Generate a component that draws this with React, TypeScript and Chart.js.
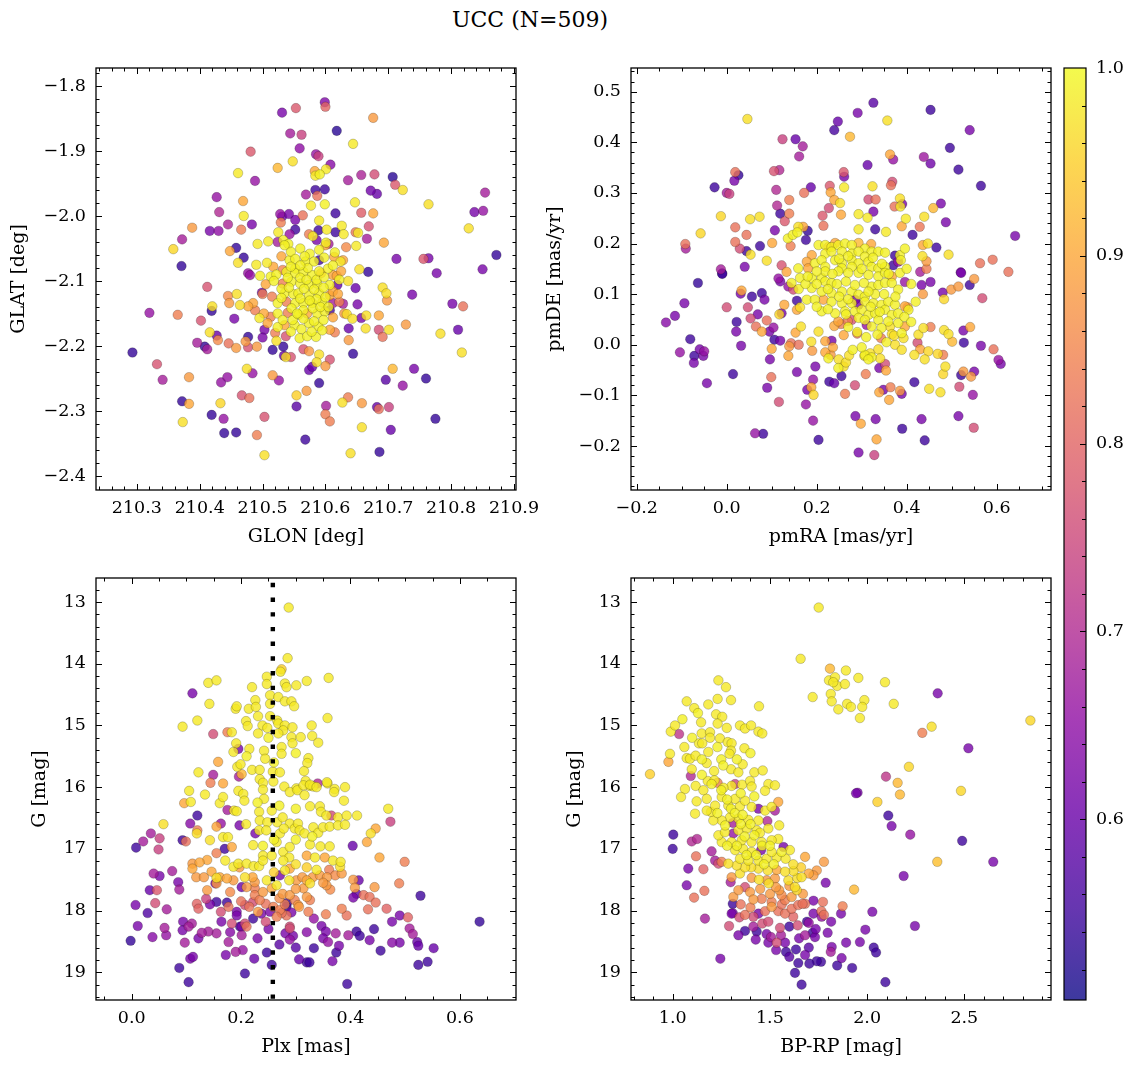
import React, { useEffect, useRef } from "react";
import { Chart, registerables } from "chart.js";
Chart.register(...registerables);

const FIG_W = 1136;
const FIG_H = 1067;
const SERIF = "'DejaVu Serif', 'Liberation Serif', serif";
const TICK_FONT = { family: SERIF, size: 17.5 };
const LABEL_FONT = { family: SERIF, size: 19 };
const TITLE_TEXT = "UCC (N=509)";

// ---------- tick labels ----------
const GLON_TICKS = [210.3, 210.4, 210.5, 210.6, 210.7, 210.8, 210.9];
const GLAT_TICKS = [-2.4, -2.3, -2.2, -2.1, -2.0, -1.9, -1.8];
const PMRA_TICKS = [-0.2, 0.0, 0.2, 0.4, 0.6];
const PMDE_TICKS = [-0.2, -0.1, 0.0, 0.1, 0.2, 0.3, 0.4, 0.5];
const PLX_TICKS = [0.0, 0.2, 0.4, 0.6];
const MAG_TICKS = [13, 14, 15, 16, 17, 18, 19];
const COLOR_TICKS = [1.0, 1.5, 2.0, 2.5];
const PROB_TICKS = [0.6, 0.7, 0.8, 0.9, 1.0];

const PROB_MIN = 0.5038;
const PROB_MAX = 1.0;
const PLX_REF = 0.258; // dotted reference line

// ---------- data: [x, y, membership probability] ----------
const skyPoints = [
[210.599,-1.825,0.63],[210.600,-1.832,0.80],[210.531,-1.841,0.62],[210.553,-1.834,0.78],[210.676,-1.849,0.88],[210.618,-1.869,0.53],[210.544,-1.873,0.68],[210.562,-1.875,0.74],[210.644,-1.889,0.98],[210.559,-1.896,0.65],[210.481,-1.901,0.78],[210.585,-1.905,0.66],[210.589,-1.908,0.74],[210.548,-1.916,0.97],[210.524,-1.926,0.92],[210.608,-1.921,0.64],[210.601,-1.928,0.98],[210.583,-1.931,0.90],[210.591,-1.936,0.99],[210.584,-1.938,0.98],[210.461,-1.934,0.98],[210.488,-1.946,0.66],[210.636,-1.945,0.68],[210.657,-1.937,0.69],[210.678,-1.936,0.76],[210.707,-1.940,0.53],[210.711,-1.952,0.78],[210.723,-1.960,0.97],[210.584,-1.960,0.55],[210.599,-1.959,0.55],[210.672,-1.961,0.61],[210.682,-1.966,0.60],[210.854,-1.964,0.68],[210.427,-1.971,0.66],[210.569,-1.967,0.68],[210.587,-1.969,0.82],[210.469,-1.977,0.90],[210.577,-1.984,0.98],[210.599,-1.982,0.99],[210.647,-1.979,0.98],[210.764,-1.982,0.97],[210.837,-1.994,0.62],[210.851,-1.992,0.66],[210.431,-1.994,0.70],[210.470,-2.000,0.98],[210.528,-1.997,0.66],[210.531,-2.001,0.60],[210.542,-1.997,0.62],[210.564,-1.999,0.82],[210.616,-1.996,0.55],[210.657,-1.995,0.79],[210.676,-1.996,0.90],[210.529,-2.010,0.84],[210.552,-2.006,0.62],[210.590,-2.007,0.98],[210.445,-2.013,0.69],[210.483,-2.013,0.62],[210.388,-2.018,0.88],[210.416,-2.023,0.62],[210.430,-2.023,0.65],[210.466,-2.021,0.84],[210.552,-2.021,0.55],[210.543,-2.028,0.66],[210.589,-2.022,0.55],[210.602,-2.021,0.98],[210.616,-2.025,0.55],[210.626,-2.015,0.98],[210.629,-2.028,0.98],[210.648,-2.025,0.83],[210.652,-2.026,0.98],[210.669,-2.016,0.77],[210.828,-2.019,0.97],[210.372,-2.036,0.68],[210.525,-2.025,0.98],[210.574,-2.028,0.84],[210.586,-2.037,0.62],[210.580,-2.031,0.98],[210.666,-2.035,0.68],[210.693,-2.041,0.90],[210.358,-2.051,0.96],[210.458,-2.049,0.54],[210.448,-2.054,0.90],[210.492,-2.043,0.98],[210.509,-2.039,0.98],[210.533,-2.037,0.99],[210.541,-2.043,0.99],[210.524,-2.040,0.68],[210.633,-2.048,0.86],[210.649,-2.046,0.98],[210.601,-2.041,0.99],[210.605,-2.043,0.68],[210.371,-2.077,0.54],[210.470,-2.064,0.54],[210.461,-2.072,0.97],[210.713,-2.066,0.62],[210.756,-2.066,0.78],[210.764,-2.065,0.62],[210.872,-2.060,0.54],[210.777,-2.088,0.62],[210.850,-2.082,0.62],[210.654,-2.082,0.97],[210.668,-2.086,0.54],[210.624,-2.070,0.98],[210.614,-2.063,0.90],[210.590,-2.068,0.55],[210.507,-2.072,0.98],[210.490,-2.075,0.98],[210.517,-2.078,0.90],[210.532,-2.083,0.85],[210.552,-2.081,0.99],[210.568,-2.070,0.99],[210.604,-2.081,0.99],[210.477,-2.088,0.66],[210.543,-2.068,0.99],
[210.412,-2.109,0.77],[210.738,-2.121,0.62],[210.802,-2.135,0.62],[210.819,-2.139,0.82],[210.320,-2.149,0.66],[210.365,-2.152,0.84],[210.420,-2.139,0.97],[210.419,-2.146,0.54],[210.402,-2.161,0.77],[210.455,-2.158,0.62],[210.499,-2.118,0.62],[210.445,-2.123,0.86],[210.459,-2.120,0.97],[210.447,-2.134,0.88],[210.464,-2.137,0.97],[210.648,-2.111,0.60],[210.691,-2.110,0.97],[210.697,-2.119,0.97],[210.698,-2.130,0.88],[210.628,-2.135,0.68],[210.636,-2.100,0.97],[210.651,-2.136,0.62],[210.634,-2.151,0.97],[210.643,-2.158,0.97],[210.665,-2.153,0.97],[210.685,-2.153,0.90],[210.657,-2.157,0.62],[210.637,-2.173,0.60],[210.664,-2.173,0.97],[210.685,-2.175,0.76],[210.691,-2.186,0.82],[210.701,-2.175,0.97],[210.728,-2.167,0.88],[210.783,-2.181,0.97],[210.811,-2.175,0.60],[210.817,-2.210,0.97],[210.293,-2.210,0.54],[210.332,-2.228,0.77],[210.341,-2.252,0.68],[210.396,-2.195,0.68],[210.408,-2.201,0.54],[210.412,-2.205,0.68],[210.416,-2.179,0.97],[210.427,-2.184,0.60],[210.429,-2.191,0.86],[210.446,-2.196,0.82],[210.458,-2.203,0.88],[210.477,-2.186,0.54],[210.473,-2.193,0.88],[210.477,-2.202,0.77],[210.491,-2.201,0.88],[210.503,-2.175,0.62],[210.500,-2.187,0.62],[210.522,-2.192,0.97],[210.516,-2.206,0.54],[210.533,-2.201,0.54],[210.537,-2.185,0.77],[210.534,-2.215,0.60],[210.537,-2.217,0.97],[210.545,-2.217,0.77],[210.565,-2.205,0.77],[210.574,-2.208,0.88],[210.590,-2.213,0.97],[210.586,-2.225,0.97],[210.600,-2.231,0.88],[210.607,-2.221,0.77],[210.574,-2.237,0.60],[210.579,-2.232,0.60],[210.637,-2.191,0.88],[210.644,-2.212,0.54],[210.707,-2.235,0.92],[210.741,-2.235,0.62],[210.760,-2.250,0.54],[210.696,-2.252,0.58],[210.723,-2.261,0.66],[210.383,-2.248,0.88],[210.434,-2.256,0.66],[210.444,-2.248,0.66],[210.475,-2.235,0.97],[210.484,-2.242,0.66],[210.516,-2.245,0.88],[210.526,-2.253,0.66],[210.590,-2.257,0.54],[210.372,-2.285,0.54],[210.383,-2.289,0.90],[210.433,-2.288,0.96],[210.467,-2.276,0.77],[210.479,-2.280,0.82],[210.554,-2.276,0.95],[210.554,-2.293,0.58],[210.570,-2.269,0.88],[210.601,-2.292,0.68],[210.600,-2.305,0.84],[210.607,-2.316,0.84],[210.627,-2.287,0.97],[210.636,-2.279,0.84],[210.658,-2.288,0.88],[210.682,-2.294,0.60],[210.685,-2.297,0.82],[210.701,-2.294,0.74],[210.658,-2.325,0.97],[210.704,-2.329,0.60],[210.775,-2.312,0.54],[210.419,-2.306,0.54],[210.438,-2.312,0.66],[210.373,-2.317,0.97],[210.439,-2.334,0.54],[210.458,-2.333,0.54],[210.503,-2.309,0.77],[210.491,-2.337,0.84],[210.568,-2.344,0.55],[210.503,-2.368,0.97],[210.640,-2.365,0.97],[210.686,-2.363,0.54]
];

const skyCorePoints = [
[210.538,-2.086,0.99],[210.552,-2.088,0.99],[210.565,-2.086,0.99],[210.579,-2.091,0.99],[210.593,-2.088,0.90],[210.612,-2.091,0.90],[210.619,-2.106,0.60],[210.532,-2.104,0.84],[210.546,-2.101,0.99],[210.560,-2.104,0.99],[210.574,-2.106,0.99],[210.587,-2.104,0.99],[210.607,-2.106,0.99],[210.535,-2.119,0.99],[210.549,-2.120,0.99],[210.557,-2.119,0.99],[210.574,-2.122,0.99],[210.590,-2.119,0.99],[210.607,-2.122,0.90],[210.612,-2.134,0.68],[210.524,-2.134,0.99],[210.538,-2.132,0.84],[210.552,-2.134,0.99],[210.565,-2.134,0.99],[210.579,-2.134,0.99],[210.595,-2.133,0.99],[210.607,-2.145,0.56],[210.524,-2.150,0.99],[210.540,-2.149,0.84],[210.557,-2.152,0.99],[210.571,-2.150,0.90],[210.587,-2.150,0.99],[210.599,-2.147,0.99],[210.502,-2.150,0.90],[210.495,-2.157,0.98],[210.513,-2.155,0.84],[210.524,-2.171,0.99],[210.535,-2.168,0.90],[210.551,-2.168,0.99],[210.562,-2.174,0.99],[210.574,-2.165,0.99],[210.589,-2.170,0.99],[210.607,-2.175,0.90],[210.615,-2.179,0.84],[210.559,-2.188,0.99],[210.571,-2.185,0.99],[210.585,-2.186,0.99],[210.485,-2.134,0.90],[210.477,-2.139,0.90],[210.488,-2.145,0.84],[210.513,-2.093,0.99],[210.496,-2.092,0.99],[210.480,-2.091,0.66],[210.618,-2.092,0.90],[210.612,-2.116,0.90],
[210.545,-2.055,0.99],[210.560,-2.050,0.99],[210.575,-2.058,0.99],[210.590,-2.052,0.99],[210.615,-2.056,0.99],[210.530,-2.062,0.90],[210.552,-2.066,0.99],[210.567,-2.062,0.99],[210.582,-2.070,0.99],[210.598,-2.064,0.99],[210.612,-2.076,0.99],[210.628,-2.068,0.90],[210.522,-2.090,0.99],[210.545,-2.078,0.99],[210.560,-2.095,0.99],[210.572,-2.080,0.99],[210.586,-2.098,0.99],[210.598,-2.094,0.99],[210.622,-2.098,0.99],[210.530,-2.112,0.99],[210.542,-2.110,0.99],[210.566,-2.112,0.99],[210.582,-2.113,0.99],[210.597,-2.110,0.99],[210.620,-2.120,0.90],[210.515,-2.124,0.84],[210.530,-2.126,0.99],[210.560,-2.127,0.99],[210.586,-2.128,0.99],[210.600,-2.125,0.99],[210.622,-2.132,0.84],[210.546,-2.142,0.99],[210.565,-2.145,0.99],[210.580,-2.142,0.99],[210.592,-2.140,0.99],[210.612,-2.156,0.90],[210.532,-2.160,0.99],[210.548,-2.160,0.99],[210.565,-2.158,0.99],[210.582,-2.162,0.99],[210.597,-2.160,0.99],[210.545,-2.178,0.99],[210.578,-2.178,0.99],[210.595,-2.176,0.99],[210.508,-2.165,0.90],[210.520,-2.180,0.84],[210.630,-2.150,0.88],[210.505,-2.105,0.90],[210.518,-2.100,0.99],[210.500,-2.120,0.84],[210.625,-2.085,0.90],[210.570,-2.098,0.99],[210.555,-2.150,0.99],[210.575,-2.130,0.99],[210.590,-2.085,0.99],[210.540,-2.095,0.99],[210.605,-2.140,0.99],[210.560,-2.076,0.99],[210.535,-2.045,0.99],[210.600,-2.045,0.90]
];

const pmPoints = [
[0.326,0.478,0.58],[0.453,0.464,0.55],[0.291,0.458,0.62],[0.046,0.446,0.97],[0.357,0.443,0.97],[0.247,0.441,0.60],[0.239,0.424,0.56],[0.274,0.411,0.92],[0.540,0.424,0.62],[0.124,0.406,0.74],[0.153,0.406,0.60],[0.169,0.392,0.68],[0.161,0.372,0.68],[0.496,0.389,0.55],[0.363,0.376,0.90],[0.370,0.366,0.66],[0.438,0.371,0.67],[0.453,0.358,0.61],[0.313,0.355,0.60],[0.515,0.346,0.55],[0.565,0.314,0.55],[0.019,0.341,0.82],[0.026,0.335,0.54],[0.017,0.324,0.62],[0.105,0.343,0.77],[0.117,0.345,0.70],[0.260,0.341,0.78],[0.261,0.332,0.62],[-0.027,0.311,0.55],[0.000,0.300,0.68],[0.006,0.298,0.74],[0.110,0.306,0.70],[0.187,0.311,0.60],[0.172,0.300,0.82],[0.229,0.314,0.78],[0.231,0.301,0.90],[0.261,0.311,0.98],[0.324,0.313,0.97],[0.365,0.315,0.82],[0.368,0.322,0.76],[0.315,0.287,0.76],[0.331,0.287,0.82],[0.139,0.286,0.84],[0.239,0.286,0.90],[0.252,0.280,0.97],[0.385,0.289,0.97],[0.373,0.273,0.82],[0.390,0.278,0.62],[0.386,0.273,0.98],[0.476,0.279,0.62],[0.459,0.270,0.92],[0.112,0.275,0.70],[0.227,0.270,0.76],[-0.013,0.254,0.96],[0.052,0.248,0.97],[0.073,0.253,0.97],[0.119,0.259,0.55],[0.139,0.259,0.84],[0.129,0.244,0.78],[0.213,0.255,0.78],[0.254,0.257,0.90],[0.293,0.258,0.98],[0.313,0.251,0.98],[0.326,0.263,0.62],[0.398,0.249,0.98],[0.439,0.253,0.97],[0.487,0.242,0.62],[-0.058,0.220,0.96],[0.019,0.232,0.82],[0.044,0.217,0.82],[0.107,0.226,0.62],[0.159,0.233,0.97],[0.170,0.233,0.90],[0.180,0.225,0.54],[0.176,0.207,0.55],[0.215,0.235,0.82],[0.293,0.228,0.98],[0.330,0.228,0.55],[0.354,0.223,0.98],[0.389,0.234,0.90],[0.413,0.217,0.55],[0.429,0.233,0.83],[0.641,0.215,0.62],[-0.092,0.199,0.82],[-0.091,0.190,0.68],[0.019,0.203,0.82],[0.029,0.190,0.76],[0.044,0.185,0.55],[0.053,0.178,0.97],[0.074,0.195,0.55],[0.101,0.201,0.90],[0.089,0.166,0.97],[0.040,0.154,0.62],[-0.013,0.149,0.68],[-0.010,0.141,0.55],[0.122,0.157,0.77],
[0.436,0.197,0.90],[0.447,0.200,0.97],[0.466,0.192,0.55],[0.435,0.175,0.97],[0.444,0.165,0.88],[0.493,0.178,0.97],[0.563,0.161,0.82],[0.591,0.168,0.82],[0.626,0.144,0.82],[0.520,0.143,0.62],[0.430,0.144,0.68],[0.444,0.150,0.84],
[-0.064,0.122,0.54],[-0.010,0.140,0.55],[-0.094,0.082,0.62],[-0.115,0.057,0.62],[-0.135,0.044,0.64],[-0.081,0.011,0.55],[-0.104,-0.015,0.66],[-0.060,-0.009,0.62],[-0.050,-0.013,0.66],[-0.052,-0.022,0.62],[-0.072,-0.022,0.55],[-0.073,-0.036,0.62],[-0.044,-0.076,0.62],[0.000,0.074,0.76],[0.033,0.107,0.90],[0.031,0.101,0.62],[0.056,0.095,0.55],[0.078,0.102,0.55],[0.084,0.089,0.62],[0.022,0.045,0.55],[0.021,0.026,0.62],[0.047,0.074,0.76],[0.053,0.052,0.76],[0.069,0.060,0.62],[0.065,0.036,0.82],[0.078,0.026,0.90],[0.089,0.048,0.82],[0.095,0.026,0.62],[0.104,0.034,0.66],[0.032,-0.002,0.62],[0.014,-0.058,0.55],[0.100,-0.008,0.90],[0.106,0.010,0.55],[0.119,0.008,0.62],[0.096,-0.029,0.62],[0.099,-0.064,0.82],[0.090,-0.085,0.62],[0.116,-0.113,0.76],[0.119,0.125,0.62],[0.137,0.115,0.66],[0.128,0.079,0.90],[0.148,0.109,0.76],[0.117,0.060,0.96],[0.122,0.062,0.62],[0.156,0.087,0.55],[0.163,0.074,0.97],[0.156,0.069,0.90],[0.139,-0.003,0.88],[0.143,0.003,0.82],[0.160,0.000,0.82],[0.137,-0.022,0.90],[0.153,0.024,0.90],[0.165,0.036,0.97],[0.156,-0.054,0.62],[0.179,-0.089,0.62],[0.188,-0.084,0.90],[0.193,-0.099,0.96],[0.176,-0.118,0.66],[0.192,-0.150,0.66],[0.197,-0.043,0.62],[0.192,-0.069,0.66],[0.188,0.006,0.97],[0.190,-0.012,0.88],[0.204,-0.188,0.55],[0.204,0.026,0.97],[0.219,0.007,0.90],[0.219,-0.015,0.90],[0.228,-0.073,0.55],[0.239,-0.076,0.60],[0.231,-0.020,0.88],[0.236,-0.005,0.90],[0.233,0.008,0.62],[0.239,0.037,0.90],[0.249,-0.029,0.97],[0.260,-0.043,0.97],[0.265,-0.035,0.97],[0.255,-0.062,0.55],[0.254,0.041,0.84],[0.260,0.019,0.90],[0.269,0.047,0.84],[0.272,-0.021,0.97],[0.263,-0.097,0.84],[0.285,-0.080,0.76],[0.290,0.022,0.83],[0.286,-0.141,0.62],[0.298,-0.156,0.90],[0.293,-0.213,0.62],[0.309,-0.058,0.84],[0.311,0.039,0.66],[0.306,-0.022,0.97],[0.319,-0.017,0.97],[0.331,-0.147,0.62],[0.328,-0.218,0.74],[0.333,-0.187,0.90],[0.337,-0.009,0.97],[0.339,-0.046,0.62],[0.341,-0.027,0.97],[0.354,-0.051,0.90],[0.352,-0.038,0.76],[0.339,-0.094,0.90],[0.348,-0.089,0.62],[0.361,-0.109,0.90],[0.364,-0.084,0.84],[0.343,0.013,0.84],[0.363,0.036,0.97],[0.367,0.021,0.97],[0.374,0.000,0.97],[0.372,0.018,0.97],[0.385,-0.091,0.88],[0.389,-0.097,0.62],[0.390,-0.166,0.55],[0.389,-0.010,0.97],[0.393,0.013,0.97],[0.396,0.036,0.90],[0.402,0.074,0.88],[0.396,0.124,0.66],[0.417,-0.074,0.55],[0.417,-0.020,0.97],[0.424,0.004,0.76],[0.430,-0.009,0.90],[0.440,-0.029,0.97],[0.426,0.020,0.97],[0.433,-0.147,0.62],[0.440,-0.189,0.55],[0.450,-0.087,0.97],[0.448,-0.013,0.96],[0.437,0.033,0.97],[0.453,0.035,0.84],[0.436,0.100,0.88],[0.433,0.118,0.62],[0.453,0.124,0.62],[0.469,-0.018,0.96],[0.475,-0.094,0.97],[0.481,-0.020,0.84],[0.480,0.103,0.62],[0.483,0.090,0.96],[0.483,0.029,0.97],[0.493,0.021,0.97],[0.486,-0.043,0.97],[0.501,0.006,0.92],[0.481,-0.058,0.96],[0.499,0.109,0.88],[0.515,0.115,0.88],[0.521,0.142,0.62],[0.540,0.118,0.55],[0.550,0.130,0.88],[0.568,0.092,0.76],[0.526,0.028,0.62],[0.541,0.035,0.90],[0.527,0.004,0.55],[0.565,-0.002,0.62],[0.593,-0.009,0.82],[0.604,-0.030,0.66],[0.609,-0.038,0.62],[0.521,-0.060,0.55],[0.526,-0.053,0.88],[0.543,-0.063,0.88],[0.550,-0.053,0.62],[0.517,-0.083,0.76],[0.547,-0.099,0.66],[0.515,-0.141,0.62],[0.549,-0.164,0.76],[0.063,-0.175,0.66],[0.081,-0.176,0.55]
];

const pmCorePoints = [
[0.204,0.197,0.99],[0.219,0.197,0.99],[0.233,0.193,0.99],[0.248,0.197,0.99],[0.263,0.200,0.99],[0.278,0.197,0.99],[0.293,0.201,0.92],[0.307,0.190,0.99],[0.322,0.184,0.99],[0.219,0.180,0.99],[0.233,0.184,0.99],[0.256,0.184,0.99],[0.278,0.180,0.99],[0.293,0.184,0.99],[0.307,0.174,0.99],[0.189,0.177,0.90],[0.178,0.164,0.90],[0.196,0.161,0.99],[0.211,0.167,0.99],[0.241,0.167,0.99],[0.256,0.161,0.99],[0.278,0.167,0.99],[0.293,0.161,0.99],[0.315,0.164,0.99],[0.337,0.184,0.99],[0.352,0.182,0.99],[0.374,0.176,0.55],[0.385,0.177,0.99],[0.396,0.190,0.99],[0.387,0.167,0.99],[0.159,0.151,0.99],[0.181,0.151,0.90],[0.219,0.154,0.99],[0.256,0.151,0.99],[0.278,0.154,0.99],[0.322,0.154,0.99],[0.337,0.151,0.99],[0.352,0.154,0.99],[0.370,0.157,0.55],[0.381,0.164,0.66],[0.226,0.193,0.90],[0.321,0.199,0.90],[0.241,0.201,0.90],[0.136,0.210,0.99],[0.147,0.217,0.99],[0.142,0.195,0.84],[0.157,0.222,0.99],[0.133,0.144,0.90],[0.115,0.131,0.66],
[0.144,0.122,0.99],[0.163,0.132,0.99],[0.189,0.132,0.99],[0.211,0.132,0.99],[0.219,0.125,0.99],[0.233,0.122,0.99],[0.189,0.112,0.99],[0.248,0.145,0.99],[0.270,0.142,0.99],[0.293,0.142,0.99],[0.315,0.138,0.99],[0.337,0.135,0.99],[0.352,0.142,0.99],[0.367,0.135,0.90],[0.385,0.142,0.99],[0.211,0.105,0.99],[0.233,0.102,0.99],[0.256,0.105,0.99],[0.278,0.105,0.99],[0.293,0.099,0.99],[0.307,0.095,0.99],[0.322,0.115,0.99],[0.337,0.118,0.99],[0.352,0.122,0.99],[0.367,0.122,0.99],[0.381,0.109,0.99],[0.178,0.089,0.99],[0.196,0.089,0.99],[0.215,0.089,0.90],[0.233,0.085,0.99],[0.256,0.082,0.99],[0.278,0.082,0.99],[0.293,0.079,0.62],[0.307,0.085,0.99],[0.326,0.082,0.99],[0.344,0.079,0.99],[0.359,0.085,0.99],[0.374,0.079,0.99],[0.396,0.076,0.90],[0.211,0.066,0.99],[0.241,0.062,0.99],[0.263,0.066,0.99],[0.285,0.066,0.99],[0.300,0.069,0.99],[0.315,0.059,0.99],[0.330,0.062,0.99],[0.352,0.069,0.99],[0.367,0.059,0.99],[0.381,0.062,0.99],[0.404,0.069,0.99],[0.248,0.046,0.90],[0.278,0.049,0.77],[0.293,0.053,0.99],[0.307,0.049,0.99],[0.337,0.049,0.99],[0.359,0.046,0.99],[0.344,0.033,0.99],[0.322,0.036,0.99],[0.381,0.043,0.99],[0.389,0.023,0.99],[0.226,-0.027,0.99],[0.248,-0.046,0.99],[0.307,-0.020,0.99],[0.322,-0.025,0.99],[0.315,-0.029,0.99],[0.285,0.089,0.62],[0.219,0.145,0.99],
[0.160,0.110,0.99],[0.175,0.120,0.99],[0.200,0.120,0.99],[0.225,0.110,0.99],[0.245,0.120,0.99],[0.265,0.125,0.99],[0.285,0.118,0.99],[0.305,0.122,0.99],[0.330,0.100,0.99],[0.350,0.100,0.99],[0.375,0.095,0.99],[0.200,0.075,0.99],[0.225,0.070,0.99],[0.250,0.095,0.99],[0.270,0.090,0.99],[0.315,0.105,0.99],[0.340,0.065,0.99],[0.395,0.055,0.99],[0.270,0.035,0.99],[0.290,0.025,0.99],[0.310,0.015,0.99],[0.335,0.020,0.99],[0.355,0.005,0.99],[0.300,-0.005,0.99],[0.280,-0.010,0.99],[0.410,0.045,0.99],[0.420,0.085,0.99],[0.250,0.170,0.99],[0.270,0.175,0.99],[0.300,0.150,0.99],[0.235,0.140,0.99],[0.200,0.145,0.99],[0.180,0.135,0.99],[0.325,0.172,0.99],[0.345,0.160,0.99],[0.360,0.140,0.99],[0.400,0.150,0.99],[0.410,0.120,0.99],[0.265,0.060,0.99],[0.320,0.075,0.99]
];

const plxPoints = [
[0.287,13.09,0.98],[0.285,13.91,0.98],[0.274,14.09,0.95],[0.272,14.13,0.98],[0.247,14.21,0.98],[0.247,14.33,0.98],[0.280,14.32,0.98],[0.283,14.38,0.98],[0.301,14.35,0.98],[0.320,14.28,0.98],[0.360,14.23,0.98],[0.140,14.31,0.98],[0.155,14.27,0.98],[0.111,14.48,0.62],[0.142,14.65,0.98],[0.220,14.38,0.98],[0.253,14.51,0.98],[0.268,14.54,0.98],[0.226,14.59,0.98],[0.280,14.61,0.98],[0.292,14.61,0.98],[0.297,14.69,0.98],[0.253,14.65,0.98],[0.190,14.73,0.98],[0.192,14.69,0.98],[0.214,14.73,0.98],[0.227,14.70,0.98],[0.231,14.85,0.98],[0.253,14.85,0.98],[0.266,14.92,0.98],[0.358,14.88,0.98],[0.093,15.02,0.98],[0.120,14.92,0.98],[0.209,14.93,0.98],[0.212,15.01,0.98],[0.239,15.00,0.98],[0.248,15.04,0.98],[0.268,14.97,0.98],[0.280,15.00,0.98],[0.277,15.08,0.98],[0.294,15.03,0.98],[0.329,15.00,0.98],[0.330,15.17,0.98],[0.231,15.13,0.98],[0.149,15.14,0.76],[0.175,15.11,0.84],[0.183,15.11,0.98],[0.268,15.13,0.98],[0.292,15.19,0.98],[0.294,15.29,0.98],[0.309,15.19,0.98],[0.341,15.28,0.98],[0.191,15.29,0.98],[0.195,15.38,0.62],[0.186,15.43,0.98],[0.215,15.38,0.98],[0.242,15.41,0.98],[0.244,15.54,0.98],[0.274,15.35,0.98],[0.274,15.46,0.98],[0.323,15.53,0.98],[0.321,15.61,0.98],[0.193,15.67,0.98],[0.199,15.63,0.98],[0.158,15.59,0.90],[0.122,15.76,0.98],[0.149,15.80,0.68],[0.196,15.83,0.68],[0.201,15.79,0.92],[0.220,15.72,0.98],[0.234,15.72,0.98],[0.234,15.87,0.98],[0.240,15.93,0.98],[0.258,15.75,0.98],[0.271,15.76,0.98],[0.259,15.91,0.98],[0.315,15.74,0.98],[0.318,15.90,0.98],[0.144,15.93,0.84],[0.167,15.94,0.90],[0.340,15.94,0.70],[0.325,15.98,0.98],[0.332,15.99,0.98],[0.358,15.94,0.98],[0.390,16.00,0.98],[0.279,15.99,0.98],[0.301,16.02,0.98],[0.105,16.06,0.98],[0.371,16.03,0.98],
[0.134,16.12,0.98],[0.096,16.26,0.90],[0.108,16.24,0.98],[0.161,16.26,0.98],[0.167,16.16,0.98],[0.195,16.06,0.98],[0.204,16.11,0.98],[0.206,16.22,0.98],[0.175,16.37,0.68],[0.187,16.38,0.98],[0.192,16.39,0.98],[0.240,16.04,0.98],[0.242,16.19,0.98],[0.233,16.40,0.98],[0.256,16.38,0.98],[0.289,16.08,0.98],[0.303,16.05,0.98],[0.314,15.97,0.98],[0.326,15.96,0.98],[0.338,16.00,0.98],[0.316,16.13,0.98],[0.326,16.31,0.98],[0.344,16.31,0.98],[0.346,16.40,0.98],[0.357,15.92,0.98],[0.370,16.08,0.98],[0.388,16.22,0.98],[0.356,16.46,0.98],[0.365,16.46,0.76],[0.377,16.49,0.98],[0.393,16.46,0.98],[0.412,16.46,0.98],[0.469,16.35,0.98],[0.473,16.56,0.74],[0.058,16.60,0.97],[0.120,16.46,0.55],[0.107,16.59,0.64],[0.120,16.70,0.84],[0.119,16.75,0.97],[0.155,16.64,0.90],[0.163,16.59,0.66],[0.197,16.62,0.62],[0.209,16.60,0.98],[0.234,16.54,0.98],[0.248,16.57,0.98],[0.233,16.70,0.98],[0.226,16.75,0.62],[0.246,16.70,0.98],[0.266,16.57,0.98],[0.276,16.49,0.98],[0.271,16.75,0.98],[0.289,16.59,0.98],[0.298,16.67,0.98],[0.304,16.59,0.98],[0.307,16.70,0.98],[0.278,16.67,0.98],[0.316,16.75,0.98],[0.332,16.65,0.98],[0.341,16.74,0.98],[0.350,16.65,0.98],[0.362,16.64,0.98],[0.377,16.62,0.98],[0.390,16.61,0.98],[0.446,16.67,0.90],[0.437,16.75,0.97],[0.430,16.89,0.90],[0.008,16.98,0.55],[0.021,16.88,0.68],[0.035,16.75,0.68],[0.051,16.83,0.74],[0.049,17.01,0.74],[0.093,16.86,0.55],[0.099,16.88,0.82],[0.143,16.86,0.97],[0.167,16.81,0.98],[0.176,16.81,0.98],[0.155,17.07,0.84],[0.170,17.00,0.55],[0.183,16.97,0.90],[0.222,16.94,0.98],[0.240,17.11,0.98],[0.256,17.11,0.98],[0.265,16.89,0.98],[0.277,17.05,0.98],[0.289,16.97,0.98],[0.288,17.14,0.98],[0.277,17.19,0.98],[0.320,17.11,0.90],[0.326,16.93,0.98],[0.335,17.14,0.98],[0.345,16.96,0.98],[0.353,17.14,0.90],[0.362,16.96,0.98],[0.368,17.19,0.98],[0.382,17.21,0.98],[0.404,16.95,0.60],[0.453,17.14,0.90],[0.499,17.21,0.84],[0.171,17.19,0.98],[0.138,17.18,0.90],[0.124,17.22,0.90],[0.111,17.24,0.88],[0.074,17.36,0.68],[0.040,17.40,0.68],[0.051,17.44,0.62],[0.085,17.54,0.62],[0.033,17.67,0.60],[0.046,17.67,0.78],[0.087,17.66,0.68],[0.007,17.91,0.62],[0.043,17.88,0.76],[0.029,18.04,0.57],[0.064,17.98,0.68],[0.011,18.25,0.62],[-0.002,18.49,0.54],[0.038,18.43,0.64],[0.063,18.40,0.66],[0.060,18.28,0.68],[0.111,17.32,0.90],[0.118,17.46,0.88],[0.132,17.46,0.88],[0.146,17.37,0.90],[0.155,17.47,0.97],[0.161,17.46,0.90],[0.174,17.48,0.90],[0.186,17.29,0.98],[0.195,17.24,0.98],[0.197,17.30,0.88],[0.210,17.24,0.98],[0.223,17.28,0.98],[0.233,17.28,0.98],[0.240,17.19,0.98],[0.221,17.46,0.90],[0.207,17.46,0.97],[0.186,17.51,0.88],[0.201,17.62,0.60],[0.210,17.62,0.88],[0.225,17.54,0.88],[0.225,17.64,0.84],[0.247,17.51,0.98],[0.256,17.64,0.90],[0.265,17.59,0.98],[0.271,17.43,0.62],[0.280,17.35,0.98],[0.289,17.32,0.90],[0.288,17.51,0.98],[0.301,17.51,0.88],[0.312,17.46,0.88],[0.320,17.51,0.90],[0.314,17.64,0.88],[0.326,17.56,0.97],[0.331,17.46,0.88],[0.338,17.34,0.98],[0.344,17.43,0.88],[0.361,17.34,0.84],[0.357,17.46,0.88],[0.356,17.59,0.88],[0.363,17.66,0.86],[0.381,17.29,0.97],[0.384,17.40,0.88],[0.372,17.43,0.86],[0.405,17.50,0.88],[0.408,17.63,0.88],[0.415,17.51,0.60],[0.411,17.73,0.60],[0.444,17.62,0.88],[0.489,17.56,0.84],[0.528,17.76,0.55],[0.276,17.73,0.88],[0.289,17.75,0.88],[0.298,17.83,0.84],[0.304,17.91,0.88],[0.326,17.83,0.84],[0.320,17.78,0.88],[0.155,17.56,0.88],[0.138,17.67,0.88],[0.119,17.89,0.80],[0.122,17.97,0.80],[0.136,17.81,0.74],[0.143,17.90,0.62],[0.153,17.56,0.62],[0.163,18.02,0.76],[0.174,17.87,0.55],[0.177,17.94,0.82],[0.155,17.86,0.55],[0.192,18.02,0.62],[0.207,17.91,0.76],[0.215,17.94,0.82],[0.222,17.86,0.76],[0.225,17.75,0.84],[0.234,17.83,0.84],[0.231,18.02,0.88],[0.237,18.05,0.62],[0.245,17.89,0.82],[0.253,18.02,0.62],[0.259,17.94,0.84],[0.271,17.99,0.84],[0.280,17.90,0.84],[0.283,18.08,0.82],[0.284,17.88,0.55],[0.292,18.03,0.62],[0.306,17.94,0.88],[0.222,18.13,0.55],[0.245,18.18,0.76],[0.265,18.10,0.84],[0.274,18.04,0.82],[0.289,18.26,0.76],[0.281,18.37,0.62],[0.289,18.47,0.66],[0.323,18.02,0.84],[0.333,18.13,0.66],[0.355,18.06,0.84],[0.384,17.97,0.84],[0.393,18.08,0.82],[0.347,18.25,0.62],[0.355,18.34,0.62],[0.373,18.37,0.68],[0.359,18.51,0.66],[0.396,18.40,0.68],[0.411,18.34,0.55],[0.417,18.41,0.55],[0.405,17.79,0.62],[0.424,17.75,0.82],[0.435,17.78,0.82],[0.446,17.87,0.82],[0.432,17.98,0.82],[0.466,17.97,0.80],[0.490,18.08,0.62],[0.505,18.11,0.80],[0.476,18.18,0.62],[0.508,18.29,0.68],[0.514,18.38,0.68],[0.522,18.51,0.60],[0.524,18.57,0.60],[0.552,18.61,0.60],[0.636,18.18,0.54],[0.443,18.30,0.55],[0.435,18.48,0.62],[0.455,18.65,0.55],[0.476,18.52,0.64],[0.490,18.52,0.62],[0.524,18.88,0.55],[0.541,18.83,0.55],[0.379,18.57,0.62],[0.374,18.68,0.55],[0.367,18.82,0.62],[0.333,18.61,0.55],[0.320,18.84,0.55],[0.325,18.84,0.55],[0.306,18.79,0.60],[0.394,19.19,0.55],[0.207,19.02,0.55],[0.247,18.68,0.55],[0.256,18.88,0.55],[0.224,18.78,0.60],[0.203,18.64,0.66],[0.190,18.67,0.68],[0.172,18.72,0.62],[0.177,18.51,0.68],[0.201,18.40,0.68],[0.201,18.26,0.62],[0.198,18.26,0.55],[0.192,18.08,0.62],[0.183,18.21,0.76],[0.207,18.21,0.76],[0.210,18.26,0.82],[0.164,18.18,0.62],[0.155,18.37,0.68],[0.140,18.34,0.68],[0.128,18.36,0.68],[0.122,18.45,0.62],[0.110,18.21,0.68],[0.094,18.18,0.62],[0.093,18.32,0.62],[0.104,18.26,0.68],[0.097,18.52,0.68],[0.107,18.78,0.62],[0.112,18.75,0.62],[0.087,18.93,0.55],[0.104,19.16,0.55],[0.289,18.29,0.76],[0.295,18.41,0.62],[0.283,17.94,0.55]
];

const plxExtraPoints = [
[0.250,15.20,0.99],[0.260,15.60,0.99],[0.300,15.45,0.99],[0.210,15.50,0.99],[0.230,16.25,0.99],[0.270,16.30,0.99],[0.300,16.35,0.99],[0.260,16.85,0.99],[0.300,16.85,0.99],[0.330,16.80,0.99],[0.240,16.95,0.99],[0.300,17.25,0.97],[0.320,17.30,0.95],[0.260,17.38,0.95],[0.350,17.55,0.88],[0.240,17.70,0.88],[0.270,17.80,0.86],[0.300,17.65,0.88],[0.180,17.70,0.86],[0.200,17.85,0.82],[0.250,18.30,0.62],[0.270,18.55,0.58],[0.300,18.60,0.58],[0.230,18.45,0.62],[0.180,18.35,0.64],[0.350,18.45,0.62],[0.320,18.35,0.64]
];

const cmdPoints = [
[1.751,13.09,0.98],[1.658,13.92,0.98],[1.809,14.08,0.92],[1.891,14.11,0.98],[1.955,14.23,0.98],[1.804,14.27,0.98],[1.835,14.22,0.98],[1.846,14.36,0.98],[1.886,14.33,0.98],[1.826,14.30,0.98],[1.720,14.54,0.98],[1.813,14.49,0.98],[1.818,14.61,0.98],[1.852,14.74,0.98],[1.897,14.65,0.98],[1.917,14.70,0.98],[1.986,14.59,0.98],[1.975,14.70,0.98],[1.963,14.88,0.98],[2.092,14.30,0.98],[2.137,14.65,0.98],[2.363,14.48,0.62],[2.332,15.02,0.97],[2.284,15.12,0.84],[2.521,15.37,0.62],[2.840,14.92,0.96],[2.215,15.67,0.96],[2.097,15.83,0.72],[2.157,15.93,0.92],[2.483,16.06,0.96],[1.951,16.09,0.62],[0.883,15.79,0.95],[0.978,15.59,0.90],[0.986,15.46,0.98],[0.990,15.10,0.98],[1.012,15.00,0.98],[1.033,15.14,0.72],[1.072,14.61,0.98],[1.111,14.72,0.98],[1.183,14.66,0.98],[1.231,14.57,0.98],[1.300,14.59,0.98],[1.444,14.69,0.98],[1.235,14.27,0.98],[1.274,14.38,0.98],[1.146,14.95,0.98],[1.223,14.82,0.98],[1.255,14.86,0.98],[1.231,14.97,0.98],[1.278,15.04,0.98],[1.346,15.00,0.98],[1.372,15.05,0.98],[1.403,15.00,0.98],[1.441,15.10,0.98],[1.461,15.13,0.98],[1.149,15.13,0.98],[1.192,15.11,0.98],[1.192,15.20,0.98],[1.135,15.29,0.98],[1.152,15.29,0.98],[1.243,15.21,0.98],[1.283,15.27,0.98],[1.303,15.29,0.98],[1.300,15.41,0.98],[1.292,15.46,0.98],[1.369,15.37,0.98],[1.060,15.35,0.98],[1.072,15.53,0.98],[1.089,15.54,0.98],[1.118,15.49,0.98],[1.183,15.43,0.98],[1.175,15.61,0.98],[1.098,15.71,0.98],[1.093,15.82,0.70],[1.213,15.74,0.98],[1.300,15.71,0.98],[1.338,15.76,0.98],[1.360,15.63,0.98],[1.420,15.76,0.98],[1.463,15.73,0.98],[1.180,15.90,0.98],[1.215,15.89,0.98],[1.231,15.93,0.84],[1.321,15.95,0.74],[1.303,15.98,0.98],[1.357,15.96,0.98],[1.398,15.90,0.98],[1.406,15.99,0.98],[1.492,15.95,0.98],[1.526,15.97,0.98],[1.063,16.03,0.98],[1.118,15.98,0.98],[1.158,16.05,0.98],[1.261,16.01,0.98],[1.475,16.06,0.98],
[1.943,16.10,0.62],[2.169,16.12,0.92],[2.053,16.24,0.95],[2.109,16.46,0.55],[2.126,16.63,0.62],[2.222,16.77,0.66],[2.489,16.87,0.55],[2.361,17.21,0.93],[2.649,17.21,0.62],[2.188,17.44,0.62],[1.933,17.66,0.92],[2.027,18.02,0.62],[2.246,18.25,0.62],[1.991,18.31,0.62],[1.963,18.51,0.62],[1.892,18.52,0.62],[2.034,18.60,0.55],[2.046,18.68,0.55],[1.923,18.93,0.55],[2.094,19.16,0.55],[1.869,18.77,0.62],[1.846,18.89,0.55],[1.818,18.59,0.62],[1.813,18.67,0.68],[1.763,18.83,0.55],[1.741,18.82,0.55],[1.703,18.86,0.55],[1.681,18.72,0.62],[1.646,18.85,0.55],[1.629,19.01,0.55],[1.663,19.20,0.55],[1.634,18.63,0.55],[1.583,18.67,0.55],[1.532,18.64,0.62],[1.245,18.78,0.62],[1.787,17.55,0.62],[1.874,17.93,0.84],[1.773,17.86,0.82],[1.778,17.21,0.88],[1.681,17.13,0.90],[1.741,17.35,0.88],[1.724,17.43,0.88],[1.866,18.05,0.62],[1.815,18.18,0.62],[1.766,18.10,0.66],[1.797,18.36,0.62],[1.720,18.36,0.55],[1.732,18.43,0.62],[1.691,18.18,0.55],[1.736,18.30,0.62],[1.681,18.40,0.68],[1.643,18.24,0.76],[1.600,18.26,0.55],[1.552,18.28,0.76],[1.557,18.40,0.68],[1.578,18.52,0.62],[1.535,18.52,0.76],[1.492,18.52,0.62],[1.506,18.43,0.68],[1.483,18.38,0.62],[1.432,18.34,0.55],[1.427,18.47,0.62],[1.372,18.33,0.55],[1.338,18.40,0.62],[1.290,18.25,0.76],[1.415,18.26,0.68],[1.461,18.21,0.76],[1.492,18.18,0.76],[1.166,18.13,0.68],[1.309,18.04,0.62],[1.343,18.11,0.76],[1.372,18.07,0.82],[1.415,18.10,0.76],[1.441,18.05,0.62],[1.475,18.01,0.82],[1.509,17.94,0.88],[1.543,18.01,0.82],[1.578,18.05,0.82],[1.612,17.97,0.82],[1.646,17.91,0.82],[1.681,17.89,0.82],[1.724,17.84,0.62],[1.765,18.01,0.82],[1.778,18.07,0.82],[1.724,18.05,0.62],[1.309,17.89,0.55],[1.312,17.78,0.88],[1.303,18.05,0.62],[1.338,17.67,0.88],[1.372,17.62,0.76],[1.398,17.70,0.88],[1.415,17.82,0.88],[1.458,17.81,0.84],[1.501,17.73,0.88],[1.509,17.86,0.84],[1.548,17.67,0.88],[1.561,17.90,0.82],[1.578,17.83,0.84],[1.612,17.78,0.88],[1.638,17.67,0.96],[1.670,17.73,0.88],[1.668,17.89,0.82],[1.298,17.54,0.68],[1.303,17.46,0.88],[1.346,17.40,0.97],[1.406,17.47,0.88],[1.444,17.50,0.97],[1.483,17.51,0.88],[1.494,17.56,0.97],[1.526,17.48,0.88],[1.531,17.62,0.88],[1.595,17.51,0.97],[1.629,17.62,0.97],[1.641,17.47,0.97],[1.663,17.46,0.97],[1.621,17.36,0.97],[1.578,17.37,0.97],[1.535,17.34,0.90],[1.489,17.35,0.97],[1.441,17.32,0.97],[1.403,17.30,0.97],[1.372,17.30,0.97],[1.329,17.27,0.97],[1.286,17.24,0.97],[1.235,17.24,0.76],[1.252,17.21,0.84],[1.218,17.19,0.68],[1.200,17.04,0.68],[1.120,17.12,0.82],[1.158,17.33,0.80],[1.080,17.32,0.62],[1.072,17.59,0.62],[1.110,17.79,0.82],[1.163,17.68,0.82],[1.003,16.77,0.55],[1.000,17.00,0.55],[1.098,16.88,0.70],[1.125,16.84,0.70],[1.346,17.16,0.98],[1.389,17.19,0.98],[1.441,17.19,0.98],[1.483,17.16,0.98],[1.535,17.14,0.98],[1.581,17.16,0.98],[1.603,17.02,0.98],[1.570,16.97,0.62],[1.321,17.02,0.98],[1.362,17.00,0.98],[1.406,17.05,0.98],[1.455,17.02,0.62],[1.509,17.05,0.98],[1.543,16.84,0.98],[1.509,16.86,0.98],[1.458,16.89,0.98],[1.406,16.89,0.98],[1.355,16.86,0.98],[1.303,16.89,0.98],[1.252,16.89,0.98],[1.235,16.78,0.98],[1.269,16.73,0.98],[1.312,16.75,0.66],[1.338,16.70,0.98],[1.381,16.67,0.98],[1.432,16.70,0.98],[1.449,16.74,0.98],[1.492,16.67,0.98],[1.548,16.62,0.98],[1.487,16.55,0.70],[1.441,16.54,0.98],[1.389,16.53,0.98],[1.338,16.51,0.98],[1.295,16.49,0.98],[1.252,16.54,0.98],[1.209,16.54,0.98],[1.197,16.40,0.98],[1.175,16.38,0.98],[1.115,16.43,0.98],[1.218,16.30,0.98],[1.286,16.30,0.98],[1.346,16.31,0.98],[1.406,16.32,0.98],[1.441,16.35,0.62],[1.475,16.38,0.98],[1.526,16.38,0.68],[1.543,16.24,0.90],[1.509,16.32,0.98],[1.372,16.22,0.98],[1.321,16.19,0.98],[1.252,16.16,0.98],[1.175,16.19,0.98],[1.123,16.23,0.98],[1.043,16.16,0.98],[1.310,16.58,0.68]
];

const cmdExtraPoints = [
[1.150,15.80,0.99],[1.200,15.95,0.99],[1.250,16.05,0.99],[1.280,16.20,0.99],[1.300,16.35,0.99],[1.230,16.42,0.99],[1.320,16.42,0.99],[1.360,16.45,0.99],[1.270,16.62,0.99],[1.350,16.60,0.99],[1.400,16.60,0.99],[1.420,16.78,0.99],[1.370,16.80,0.99],[1.330,16.95,0.99],[1.280,16.95,0.99],[1.460,16.95,0.99],[1.500,16.95,0.99],[1.430,17.10,0.99],[1.380,17.10,0.99],[1.560,17.05,0.99],[1.620,17.25,0.97],[1.660,17.30,0.95],[1.700,17.40,0.90],[1.520,17.25,0.99],[1.470,17.25,0.99],[1.250,15.55,0.99],[1.150,15.55,0.99],[1.230,15.35,0.99],[1.100,15.20,0.99],[1.050,14.90,0.99],[1.130,14.80,0.99],[1.330,15.55,0.99],[1.400,15.45,0.99],[1.260,15.65,0.99],[1.350,16.10,0.99],[1.420,16.15,0.99],[1.600,17.60,0.88],[1.560,17.75,0.86],[1.450,17.65,0.88],[1.400,17.95,0.84],[1.350,17.90,0.82],[1.620,18.10,0.80],[1.700,18.20,0.66],[1.650,18.45,0.62],[1.600,18.75,0.58],[1.700,18.60,0.58]
];

// ---------- plasma colormap ----------
const PLASMA = [
  [13, 8, 135], [65, 4, 157], [106, 0, 168], [143, 13, 164], [177, 42, 144],
  [204, 71, 120], [225, 100, 98], [242, 132, 75], [252, 166, 54], [252, 206, 37], [240, 249, 33],
];
function plasmaRGB(t: number) {
  const c = Math.max(0, Math.min(1, t)) * (PLASMA.length - 1);
  const i = Math.min(PLASMA.length - 2, Math.floor(c));
  const f = c - i;
  const a = PLASMA[i], b = PLASMA[i + 1];
  return [0, 1, 2].map((k) => Math.round(a[k] + (b[k] - a[k]) * f));
}
function probColor(p: number, alpha = 0.8) {
  const [r, g, b] = plasmaRGB((p - PROB_MIN) / (PROB_MAX - PROB_MIN));
  return `rgba(${r},${g},${b},${alpha})`;
}

function fmt(v: number, d: number) {
  const s = Math.abs(v).toFixed(d);
  return v < -1e-9 ? "\u2212" + s : s;
}
function minorValues(min: number, max: number, step: number, majors: number[]) {
  const out: number[] = [];
  const start = Math.ceil(min / step - 1e-6);
  const end = Math.floor(max / step + 1e-6);
  for (let k = start; k <= end; k++) {
    const v = k * step;
    if (majors.some((m) => Math.abs(m - v) < step * 0.01)) continue;
    out.push(v);
  }
  return out;
}

const X_AXIS_H = 58.4;
const MAJOR_LEN = 6;
const MINOR_LEN = 3.5;

const PANELS = [
  { points: skyPoints.concat(skyCorePoints), area: { l: 96, t: 68, r: 516, b: 490 }, xRange: [210.235, 210.9032], yRange: [-2.4215, -1.7723],
    xTicks: GLON_TICKS, yTicks: GLAT_TICKS, xMinor: 0.02, yMinor: 0.02, xDigits: 1, yDigits: 1,
    xTitle: "GLON [deg]", yTitle: "GLAT [deg]", yAxisW: 88.4, reverse: false },
  { points: pmPoints.concat(pmCorePoints), area: { l: 631, t: 68, r: 1051, b: 490 }, xRange: [-0.2127, 0.7207], yRange: [-0.287, 0.5468],
    xTicks: PMRA_TICKS, yTicks: PMDE_TICKS, xMinor: 0.05, yMinor: 0.02, xDigits: 1, yDigits: 1,
    xTitle: "pmRA [mas/yr]", yTitle: "pmDE [mas/yr]", yAxisW: 87.4, reverse: false },
  { points: plxPoints.concat(plxExtraPoints), area: { l: 96, t: 578, r: 516, b: 1000 }, xRange: [-0.0653, 0.7026], yRange: [12.611, 19.449],
    xTicks: PLX_TICKS, yTicks: MAG_TICKS, xMinor: 0.05, yMinor: 0.2, xDigits: 1, yDigits: 0,
    xTitle: "Plx [mas]", yTitle: "G [mag]", yAxisW: 67.4, reverse: true, refLine: PLX_REF },
  { points: cmdPoints.concat(cmdExtraPoints), area: { l: 631, t: 578, r: 1051, b: 1000 }, xRange: [0.7855, 2.946], yRange: [12.611, 19.449],
    xTicks: COLOR_TICKS, yTicks: MAG_TICKS, xMinor: 0.1, yMinor: 0.2, xDigits: 1, yDigits: 0,
    xTitle: "BP-RP [mag]", yTitle: "G [mag]", yAxisW: 67.4, reverse: true },
];

function framePlugin(spec: any) {
  return {
    id: "frameTicks",
    afterDraw(chart: any) {
      const { ctx, chartArea: a, scales } = chart;
      const xs = scales.x, ys = scales.y;
      ctx.save();
      ctx.strokeStyle = "#000";
      ctx.lineWidth = 1;
      const xMin = minorValues(spec.xRange[0], spec.xRange[1], spec.xMinor, spec.xTicks);
      const yMin = minorValues(spec.yRange[0], spec.yRange[1], spec.yMinor, spec.yTicks);
      const drawX = (vals: number[], len: number) => {
        ctx.beginPath();
        for (const v of vals) {
          const px = Math.round(xs.getPixelForValue(v)) + 0.5;
          if (px < a.left + 1 || px > a.right - 1) continue;
          ctx.moveTo(px, a.bottom); ctx.lineTo(px, a.bottom - len);
          ctx.moveTo(px, a.top); ctx.lineTo(px, a.top + len);
        }
        ctx.stroke();
      };
      const drawY = (vals: number[], len: number) => {
        ctx.beginPath();
        for (const v of vals) {
          const py = Math.round(ys.getPixelForValue(v)) + 0.5;
          if (py < a.top + 1 || py > a.bottom - 1) continue;
          ctx.moveTo(a.left, py); ctx.lineTo(a.left + len, py);
          ctx.moveTo(a.right, py); ctx.lineTo(a.right - len, py);
        }
        ctx.stroke();
      };
      drawX(spec.xTicks, MAJOR_LEN);
      drawX(xMin, MINOR_LEN);
      drawY(spec.yTicks, MAJOR_LEN);
      drawY(yMin, MINOR_LEN);
      ctx.lineWidth = 1.3;
      ctx.strokeRect(a.left, a.top, a.right - a.left, a.bottom - a.top);
      ctx.restore();
    },
  };
}

function makePanelConfig(spec: any): any {
  const sorted = [...spec.points].sort((p: number[], q: number[]) => p[2] - q[2]);
  const datasets: any[] = [
    {
      type: "scatter",
      data: sorted.map((pt: number[]) => ({ x: pt[0], y: pt[1] })),
      pointBackgroundColor: sorted.map((pt: number[]) => probColor(pt[2])),
      pointBorderColor: "rgba(0,0,0,0.4)",
      pointBorderWidth: 0.5,
      pointRadius: 4.8,
      pointHoverRadius: 4.8,
      showLine: false,
      order: 1,
    },
  ];
  if (spec.refLine !== undefined) {
    datasets.push({
      type: "line",
      data: [{ x: spec.refLine, y: spec.yRange[0] }, { x: spec.refLine, y: spec.yRange[1] }],
      borderColor: "#000",
      borderWidth: 4.4,
      borderDash: [4.4, 10.3],
      borderDashOffset: -4.8,
      borderCapStyle: "butt",
      pointRadius: 0,
      fill: false,
      order: 0,
    });
  }
  const a = spec.area;
  return {
    type: "scatter",
    data: { datasets },
    options: {
      responsive: false,
      animation: false,
      devicePixelRatio: 1,
      events: [],
      layout: { padding: { left: a.l - spec.yAxisW, top: a.t, right: FIG_W - a.r, bottom: FIG_H - a.b - X_AXIS_H } },
      plugins: { legend: { display: false }, tooltip: { enabled: false }, title: { display: false } },
      scales: {
        x: {
          type: "linear", position: "bottom", min: spec.xRange[0], max: spec.xRange[1],
          afterBuildTicks: (s: any) => { s.ticks = spec.xTicks.map((v: number) => ({ value: v })); },
          afterFit: (s: any) => { s.height = X_AXIS_H; },
          grid: { display: false, drawTicks: false },
          border: { display: false },
          ticks: { font: TICK_FONT, color: "#000", padding: 8, maxRotation: 0, autoSkip: false,
            callback: (v: number) => fmt(v, spec.xDigits) },
          title: { display: true, text: spec.xTitle, font: LABEL_FONT, color: "#000", padding: 0 },
        },
        y: {
          type: "linear", position: "left", min: spec.yRange[0], max: spec.yRange[1], reverse: spec.reverse,
          afterBuildTicks: (s: any) => { s.ticks = spec.yTicks.map((v: number) => ({ value: v })); },
          afterFit: (s: any) => { s.width = spec.yAxisW; },
          grid: { display: false, drawTicks: false },
          border: { display: false },
          ticks: { font: TICK_FONT, color: "#000", padding: 10, autoSkip: false,
            callback: (v: number) => fmt(v, spec.yDigits) },
          title: { display: true, text: spec.yTitle, font: LABEL_FONT, color: "#000", padding: 0 },
        },
      },
    },
    plugins: [framePlugin(spec)],
  };
}

const CB = { l: 1064, t: 68, r: 1086, b: 1000 };
const CB_AXIS_W = 45;

const colorbarPlugin = {
  id: "colorbar",
  beforeDatasetsDraw(chart: any) {
    const { ctx, chartArea: a } = chart;
    const g = ctx.createLinearGradient(0, a.bottom, 0, a.top);
    for (let i = 0; i <= 40; i++) {
      const [r, gg, b] = plasmaRGB(i / 40);
      g.addColorStop(i / 40, `rgba(${r},${gg},${b},0.8)`);
    }
    ctx.save();
    ctx.fillStyle = g;
    ctx.fillRect(a.left, a.top, a.right - a.left, a.bottom - a.top);
    ctx.restore();
  },
  afterDraw(chart: any) {
    const { ctx, chartArea: a, scales } = chart;
    const ys = scales.y;
    ctx.save();
    ctx.strokeStyle = "#000";
    ctx.lineWidth = 1;
    ctx.beginPath();
    const minors = minorValues(PROB_MIN, PROB_MAX, 0.02, PROB_TICKS);
    for (const v of PROB_TICKS) {
      const py = Math.round(ys.getPixelForValue(v)) + 0.5;
      if (py < a.top + 1 || py > a.bottom - 1) continue;
      ctx.moveTo(a.right, py); ctx.lineTo(a.right - 6, py);
    }
    for (const v of minors) {
      const py = Math.round(ys.getPixelForValue(v)) + 0.5;
      if (py < a.top + 1 || py > a.bottom - 1) continue;
      ctx.moveTo(a.right, py); ctx.lineTo(a.right - 4, py);
    }
    ctx.stroke();
    ctx.lineWidth = 1.2;
    ctx.strokeRect(a.left, a.top, a.right - a.left, a.bottom - a.top);
    ctx.restore();
  },
};

function makeColorbarConfig(): any {
  return {
    type: "scatter",
    data: { datasets: [] },
    options: {
      responsive: false,
      animation: false,
      devicePixelRatio: 1,
      events: [],
      layout: { padding: { left: CB.l, top: CB.t, right: FIG_W - CB.r - CB_AXIS_W, bottom: FIG_H - CB.b } },
      plugins: { legend: { display: false }, tooltip: { enabled: false } },
      scales: {
        x: { display: false, min: 0, max: 1 },
        y: {
          type: "linear", position: "right", min: PROB_MIN, max: PROB_MAX,
          afterBuildTicks: (s: any) => { s.ticks = PROB_TICKS.map((v) => ({ value: v })); },
          afterFit: (s: any) => { s.width = CB_AXIS_W; },
          grid: { display: false, drawTicks: false },
          border: { display: false },
          ticks: { font: TICK_FONT, color: "#000", padding: 10, autoSkip: false, callback: (v: number) => v.toFixed(1) },
        },
      },
    },
    plugins: [colorbarPlugin],
  };
}

export default function App() {
  const r0 = useRef<HTMLCanvasElement>(null);
  const r1 = useRef<HTMLCanvasElement>(null);
  const r2 = useRef<HTMLCanvasElement>(null);
  const r3 = useRef<HTMLCanvasElement>(null);
  const rc = useRef<HTMLCanvasElement>(null);

  useEffect(() => {
    const refs = [r0, r1, r2, r3];
    const charts: Chart[] = [];
    PANELS.forEach((spec, i) => {
      const c = refs[i].current;
      if (c) charts.push(new Chart(c, makePanelConfig(spec)));
    });
    if (rc.current) charts.push(new Chart(rc.current, makeColorbarConfig()));
    return () => charts.forEach((c) => c.destroy());
  }, []);

  const canvasStyle: React.CSSProperties = { position: "absolute", left: 0, top: 0, width: FIG_W, height: FIG_H };
  return (
    <div style={{ position: "absolute", left: 0, top: 0, width: FIG_W, height: FIG_H, background: "#fff", overflow: "hidden" }}>
      <div style={{ position: "absolute", left: 0, top: 7, width: 1060, textAlign: "center", fontFamily: SERIF, fontSize: 22, lineHeight: "26px", color: "#000" }}>
        {TITLE_TEXT}
      </div>
      <canvas ref={r0} width={FIG_W} height={FIG_H} style={canvasStyle} />
      <canvas ref={r1} width={FIG_W} height={FIG_H} style={canvasStyle} />
      <canvas ref={r2} width={FIG_W} height={FIG_H} style={canvasStyle} />
      <canvas ref={r3} width={FIG_W} height={FIG_H} style={canvasStyle} />
      <canvas ref={rc} width={FIG_W} height={FIG_H} style={canvasStyle} />
    </div>
  );
}
